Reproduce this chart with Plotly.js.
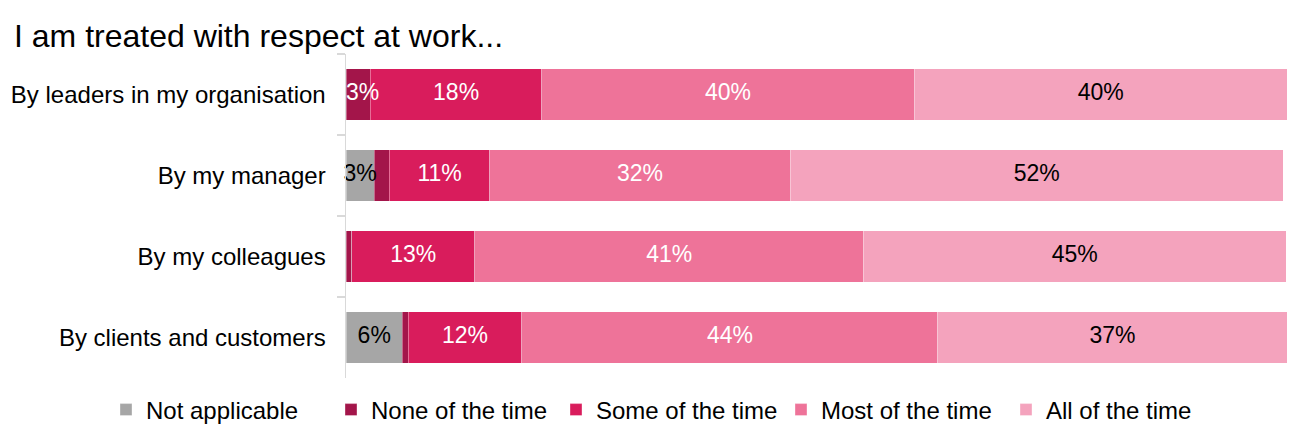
<!DOCTYPE html>
<html>
<head>
<meta charset="utf-8">
<script src="https://cdn.plot.ly/plotly-3.0.1.min.js"></script>
<style>
html,body{margin:0;padding:0;background:#fff;}
#chart{width:1292px;height:437px;}
</style>
</head>
<body>
<div id="chart"></div>
<script>
// Categories (top to bottom)
var categories = ["By leaders in my organisation", "By my manager", "By my colleagues", "By clients and customers"];

// Series values (% of respondents)
var notApplicable = [0, 3.0, 0, 6.0];
var noneOfTheTime = [2.6, 1.6, 0.6, 0.6];
var someOfTheTime = [18.2, 10.7, 13.1, 12.1];
var mostOfTheTime = [39.6, 31.9, 41.3, 44.2];
var allOfTheTime  = [39.6, 52.4, 44.9, 37.1];

var seriesNames = ["Not applicable", "None of the time", "Some of the time", "Most of the time", "All of the time"];
var seriesValues = [notApplicable, noneOfTheTime, someOfTheTime, mostOfTheTime, allOfTheTime];
var seriesColors = ["#a6a6a6", "#a3154a", "#d91c5c", "#ee7399", "#f4a3bd"];
var labelColors = ["#000000", "#ffffff", "#ffffff", "#ffffff", "#000000"];

var font = "Liberation Sans, Arial, sans-serif";

var traces = seriesNames.map(function (name, i) {
  return {
    type: "bar",
    orientation: "h",
    name: name,
    y: categories,
    x: seriesValues[i],
    marker: {color: seriesColors[i], line: {color: "rgba(255,255,255,0.6)", width: 0.6}},
    hoverinfo: "skip"
  };
});

// Data labels drawn on top of all bars (so narrow segments' labels are not covered)
var lx = [], ly = [], lt = [], lc = [], lp = [];
categories.forEach(function (cat, r) {
  var start = 0;
  seriesValues.forEach(function (vals, i) {
    var v = vals[r];
    if (v >= 2.5) {
      var narrowWhite = v < 3 && labelColors[i] === "#ffffff";
      lx.push(narrowWhite ? start : start + v / 2);
      lp.push(narrowWhite ? "middle right" : "middle center");
      ly.push(cat);
      lt.push(Math.round(v) + "%");
      lc.push(labelColors[i]);
    }
    start += v;
  });
});
traces.push({
  type: "scatter",
  mode: "text",
  x: lx,
  y: ly,
  text: lt,
  textposition: lp,
  textfont: {family: font, size: 23, color: lc},
  cliponaxis: false,
  showlegend: false,
  hoverinfo: "skip"
});

var layout = {
  width: 1292,
  height: 437,
  margin: {l: 346, r: 5, t: 54, b: 59, autoexpand: false},
  paper_bgcolor: "#ffffff",
  plot_bgcolor: "#ffffff",
  barmode: "stack",
  bargap: 0.36,
  showlegend: true,
  title: {
    text: "I am treated with respect at work...",
    font: {family: font, size: 32, color: "#000000"},
    x: 14 / 1292,
    xref: "container",
    xanchor: "left",
    y: 1 - 36 / 437,
    yref: "container",
    yanchor: "middle"
  },
  xaxis: {
    range: [0, 100],
    visible: false,
    fixedrange: true
  },
  yaxis: {
    type: "category",
    categoryorder: "array",
    categoryarray: categories,
    autorange: "reversed",
    showline: true,
    linecolor: "#d9d9d9",
    linewidth: 1.5,
    ticks: "outside",
    tickson: "boundaries",
    ticklen: 8,
    tickcolor: "#d9d9d9",
    tickwidth: 1.5,
    ticklabelstandoff: 14,
    showgrid: false,
    zeroline: false,
    tickfont: {family: font, size: 24, color: "#000000"},
    fixedrange: true
  },
  legend: {
    orientation: "h",
    x: (106 - 346) / 941,
    xref: "paper",
    xanchor: "left",
    y: -(410 - 378) / 324,
    yref: "paper",
    yanchor: "middle",
    traceorder: "normal",
    entrywidth: 180,
    entrywidthmode: "pixels",
    font: {family: font, size: 24, color: "#000000"}
  }
};

Plotly.newPlot("chart", traces, layout, {displayModeBar: false, staticPlot: true});
</script>
</body>
</html>
